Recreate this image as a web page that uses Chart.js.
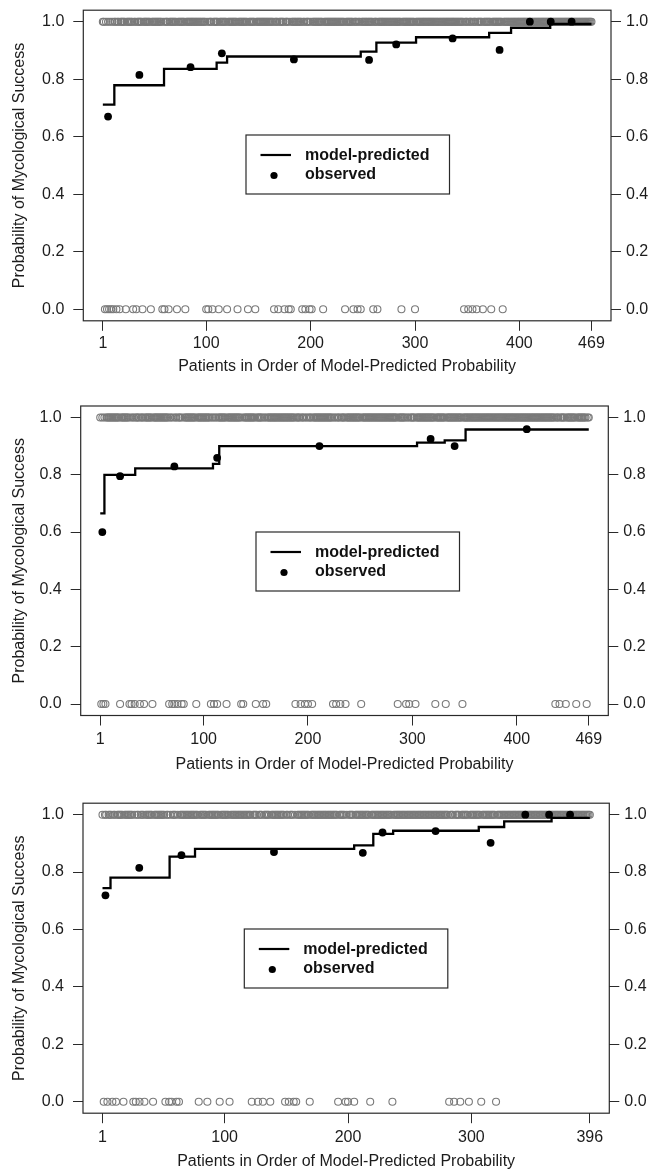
<!DOCTYPE html>
<html>
<head>
<meta charset="utf-8">
<script src="https://cdn.jsdelivr.net/npm/chart.js@4.4.1/dist/chart.umd.min.js"></script>
<style>
html,body{margin:0;padding:0;background:#fff;}
#wrap{position:relative;width:662px;height:1170px;overflow:hidden;}
canvas{position:absolute;left:0;}
</style>
</head>
<body>
<div id="wrap">
<canvas id="c1" width="662" height="390" style="top:0px"></canvas>
<canvas id="c2" width="662" height="395" style="top:390px"></canvas>
<canvas id="c3" width="662" height="385" style="top:785px"></canvas>
</div>
<script>
// ---------------- DATA ----------------
const yTickValues = [0, 0.2, 0.4, 0.6, 0.8, 1.0];
const xTitle = 'Patients in Order of Model-Predicted Probability';
const yTitle = 'Probability of Mycological Success';
const legendLine = 'model-predicted';
const legendDot = 'observed';

// Panel 1
const p1N = 469;
const p1XTicks = [1, 100, 200, 300, 400, 469];
const p1StepX = [1, 12, 59.6, 110, 120, 248, 263, 301, 371, 392, 429.5, 469];
const p1StepY = [0.712, 0.779, 0.836, 0.858, 0.879, 0.896, 0.927, 0.946, 0.961, 0.979, 0.992, 0.992];
const p1ObsX = [6, 36, 85, 115, 184, 256, 282, 336, 381, 410, 430, 450];
const p1ObsY = [0.670, 0.815, 0.842, 0.890, 0.869, 0.867, 0.921, 0.942, 0.902, 1.0, 1.0, 1.0];
const p1Failures = [3,5,7,9,11,14,17,23,30,33,39,47,58,60,64,72,80,100,102,106,112,120,130,140,147,165,169,175,179,181,192,195,199,201,212,233,241,245,248,260,264,287,300,347,351,355,359,365,373,384];

// Panel 2
const p2N = 469;
const p2XTicks = [1, 100, 200, 300, 400, 469];
const p2StepX = [1, 5, 34.5, 109, 115, 304.5, 331, 351, 469];
const p2StepY = [0.665, 0.800, 0.822, 0.838, 0.900, 0.912, 0.920, 0.958, 0.958];
const p2ObsX = [3, 20, 72, 113, 211, 317.5, 340.5, 409.6];
const p2ObsY = [0.600, 0.795, 0.829, 0.859, 0.900, 0.925, 0.900, 0.959];
const p2Failures = [2,4,6,20,29,31,34,39,43,51,67,70,72,75,79,81,93,107,110,113,122,136,138,150,157,160,188,193,197,200,204,224,227,231,236,251,286,294,297,303,322,332,348,437,441,447,457,467];

// Panel 3
const p3N = 396;
const p3XTicks = [1, 100, 200, 300, 396];
const p3StepX = [1, 7.5, 55.4, 76, 205, 220.5, 236.6, 306, 326.6, 365, 396];
const p3StepY = [0.744, 0.781, 0.854, 0.881, 0.893, 0.933, 0.944, 0.957, 0.977, 0.989, 0.989];
const p3ObsX = [3.4, 30.8, 65, 140, 212, 228, 271, 315.6, 343.7, 363, 380];
const p3ObsY = [0.719, 0.815, 0.859, 0.870, 0.867, 0.938, 0.943, 0.902, 1.0, 1.0, 1.0];
const p3Failures = [2,5,9,12,18,26,28,31,35,42,52,55,57,61,63,79,86,96,104,122,127,131,137,149,152,156,158,169,192,198,200,205,218,236,282,286,291,298,308,320];

// ---------------- DRAWING ----------------
const FONT = "'Liberation Sans', Arial, Helvetica, sans-serif";
const TXT = '#1c1c1c';

const rFrame = {
  id: 'rFrame',
  afterDatasetsDraw(chart, args, o) {
    const ctx = chart.ctx, a = chart.chartArea;
    ctx.save();
    ctx.strokeStyle = '#2a2a2a';
    ctx.lineWidth = 1.2;
    ctx.strokeRect(a.left, a.top, a.right - a.left, a.bottom - a.top);
    // legend box
    const L = o.left, T = o.top, W = o.width, H = o.height;
    ctx.fillStyle = '#fff';
    ctx.fillRect(L, T, W, H);
    ctx.strokeRect(L, T, W, H);
    ctx.strokeStyle = '#000';
    ctx.lineWidth = 2.2;
    ctx.beginPath();
    ctx.moveTo(L + 14.5, T + 20);
    ctx.lineTo(L + 45, T + 20);
    ctx.stroke();
    ctx.fillStyle = '#000';
    ctx.beginPath();
    ctx.arc(L + 28, T + 40.5, 3.6, 0, Math.PI * 2);
    ctx.fill();
    ctx.fillStyle = '#111';
    ctx.font = "bold 16px " + FONT;
    ctx.textAlign = 'left';
    ctx.textBaseline = 'middle';
    const ds = chart.data.datasets;
    ctx.fillText(ds[1].label, L + 59, T + 20.5);
    ctx.fillText(ds[0].label, L + 59, T + 40);
    ctx.restore();
  }
};

function makePanel(id, d, g) {
  const xr = d.N - 1;
  const xmin = 1 - 0.04 * xr, xmax = d.N + 0.04 * xr;
  const fail = new Set(d.failures);
  const successes = [];
  for (let i = 1; i <= d.N; i++) if (!fail.has(i)) successes.push({x: i, y: 1});
  const failures = d.failures.map(v => ({x: v, y: 0}));
  const step = d.stepX.map((v, i) => ({x: v, y: d.stepY[i]}));
  const obs = d.obsX.map((v, i) => ({x: v, y: d.obsY[i]}));
  const tickFont = {family: FONT, size: 16};
  const yAxis = (pos, width, pad, withTitle) => ({
    type: 'linear', position: pos, min: -0.04, max: 1.04,
    afterBuildTicks: s => { s.ticks = yTickValues.map(v => ({value: v})); },
    afterFit: s => { s.width = width; s.paddingTop = 0; s.paddingBottom = 0; },
    grid: {drawOnChartArea: false, drawTicks: true, tickLength: 10, color: '#2a2a2a', lineWidth: 1},
    border: {display: false},
    ticks: {padding: pad, color: TXT, font: tickFont, callback: v => Number(v).toFixed(1)},
    title: {display: withTitle, text: yTitle, color: TXT, font: {family: FONT, size: 16}, padding: {top: 10, bottom: 0}}
  });
  return new Chart(document.getElementById(id), {
    type: 'scatter',
    data: {
      datasets: [
        {label: legendDot, data: obs, pointRadius: 3.9, pointBackgroundColor: '#000', pointBorderWidth: 0, showLine: false},
        {label: legendLine, data: step, showLine: true, stepped: 'before', borderColor: '#000', borderWidth: 2.3, pointRadius: 0, fill: false},
        {label: 'fail', data: failures, pointRadius: 3.5, pointBorderColor: '#7a7a7a', pointBackgroundColor: 'rgba(0,0,0,0)', pointBorderWidth: 1.1, showLine: false},
        {label: 'success', data: successes, pointRadius: 3.5, pointBorderColor: '#7a7a7a', pointBackgroundColor: 'rgba(0,0,0,0)', pointBorderWidth: 1.1, showLine: false}
      ]
    },
    options: {
      responsive: false, animation: false, devicePixelRatio: 1,
      layout: {padding: {top: g.top, left: 0, right: 0, bottom: 0}},
      plugins: {legend: {display: false}, tooltip: {enabled: false}, rFrame: g.legend},
      scales: {
        x: {
          type: 'linear', position: 'bottom', min: xmin, max: xmax,
          afterBuildTicks: s => { s.ticks = d.xTicks.map(v => ({value: v})); },
          afterFit: s => { s.height = g.H - g.bottom; s.paddingLeft = 0; s.paddingRight = 0; },
          grid: {drawOnChartArea: false, drawTicks: true, tickLength: 10, color: '#2a2a2a', lineWidth: 1},
          border: {display: false},
          ticks: {padding: g.tickPad, color: TXT, font: tickFont, autoSkip: false, maxRotation: 0, callback: v => String(v)},
          title: {display: true, text: xTitle, color: TXT, font: {family: FONT, size: 16, lineHeight: 1}, padding: {top: 0, bottom: g.titlePad}}
        },
        y: yAxis('left', g.left, 9, true),
        y2: yAxis('right', 662 - g.right, 5, false)
      }
    },
    plugins: [rFrame]
  });
}

makePanel('c1',
  {N: p1N, xTicks: p1XTicks, stepX: p1StepX, stepY: p1StepY, obsX: p1ObsX, obsY: p1ObsY, failures: p1Failures},
  {H: 390, top: 10.2, bottom: 320.8, left: 83.3, right: 611, tickPad: 3, titlePad: 15.3,
   legend: {left: 246, top: 135, width: 203.5, height: 59}});
makePanel('c2',
  {N: p2N, xTicks: p2XTicks, stepX: p2StepX, stepY: p2StepY, obsX: p2ObsX, obsY: p2ObsY, failures: p2Failures},
  {H: 395, top: 16, bottom: 325.5, left: 80.7, right: 608.3, tickPad: 4.9, titlePad: 12,
   legend: {left: 256, top: 142, width: 203.5, height: 59}});
makePanel('c3',
  {N: p3N, xTicks: p3XTicks, stepX: p3StepX, stepY: p3StepY, obsX: p3ObsX, obsY: p3ObsY, failures: p3Failures},
  {H: 385, top: 18.2, bottom: 328.2, left: 83, right: 609.3, tickPad: 4.5, titlePad: 0.3,
   legend: {left: 244.3, top: 144, width: 203.5, height: 59}});
</script>
</body>
</html>
